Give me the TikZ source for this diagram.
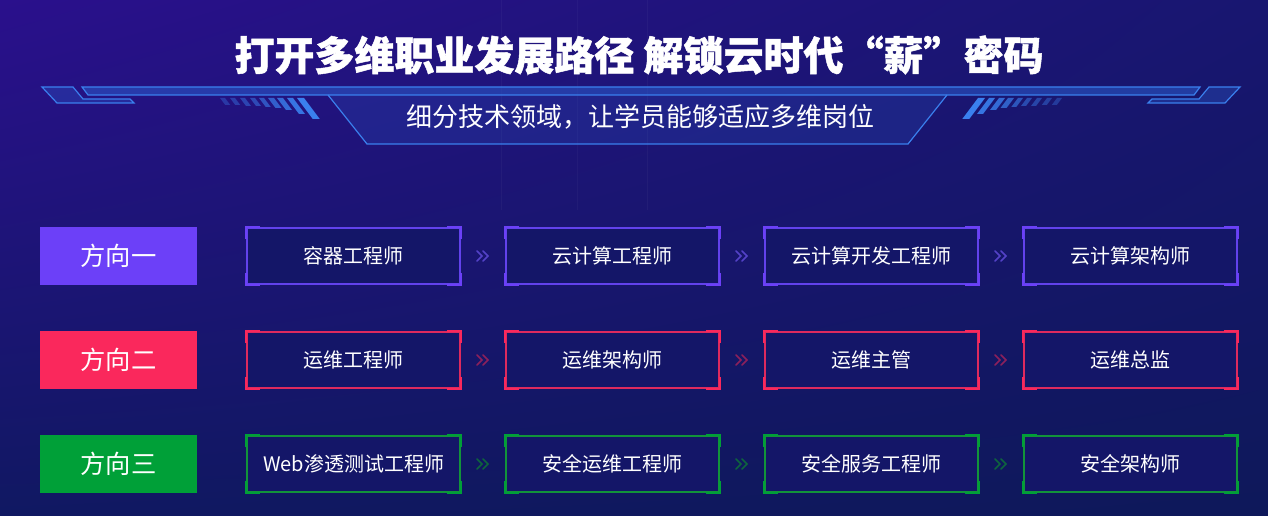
\documentclass[tikz,border=0pt]{standalone}
\usepackage{fontspec}
\setmainfont{Noto Sans CJK SC}
\newfontfamily\titlefont[BoldFeatures={FakeBold=1.2}]{Noto Sans CJK SC}
\usetikzlibrary{calc,shadings}

\definecolor{bgul}{RGB}{42,16,140}
\definecolor{bgur}{RGB}{24,22,112}
\definecolor{bgll}{RGB}{16,24,98}
\definecolor{bglr}{RGB}{14,24,90}
\definecolor{hdline}{RGB}{58,128,238}
\definecolor{hdfill}{RGB}{44,92,205}
\definecolor{boxfill}{RGB}{20,22,104}
\definecolor{dirpurple}{RGB}{108,64,248}
\definecolor{dirred}{RGB}{250,40,92}
\definecolor{dirgreen}{RGB}{0,160,56}
\definecolor{linepurple}{RGB}{98,66,236}
\definecolor{linered}{RGB}{222,42,94}
\definecolor{linegreen}{RGB}{18,148,58}
\definecolor{chevpurple}{RGB}{84,66,200}
\definecolor{chevred}{RGB}{140,32,92}
\definecolor{chevgreen}{RGB}{14,100,62}

\tikzset{every picture/.style={line width=0.75pt}}
\tikzset{
  hdstroke/.style={draw=hdline, line width=0.9pt},
  dirbox/.style={minimum width=117.75pt, minimum height=43.5pt, inner sep=0pt, text=white, font=\fontsize{19}{22}\selectfont},
  jobbox/.style={minimum width=159.75pt, minimum height=42pt, inner sep=0pt, line width=1pt, fill=boxfill, text=white, font=\fontsize{15}{18}\selectfont},
  chev/.style={line width=1.1pt, line cap=round},
}

% thick brackets on the four corners of a job box (y axis is flipped)
\newcommand{\boxcorners}[2]{%
  \draw[#2, line width=1.6pt] ([xshift=10pt]#1.north west) -- (#1.north west) -- ([yshift=9pt]#1.north west);
  \draw[#2, line width=1.6pt] ([xshift=-10pt]#1.north east) -- (#1.north east) -- ([yshift=9pt]#1.north east);
  \draw[#2, line width=1.6pt] ([xshift=10pt]#1.south west) -- (#1.south west) -- ([yshift=-9pt]#1.south west);
  \draw[#2, line width=1.6pt] ([xshift=-10pt]#1.south east) -- (#1.south east) -- ([yshift=-9pt]#1.south east);
}

\begin{document}
\begin{tikzpicture}[x=0.75pt,y=0.75pt,yscale=-1,xscale=1]
	\useasboundingbox (0,0) rectangle (1268,516);

	%Shape: Background
	\shade[upper left=bgul, upper right=bgur, lower left=bgll, lower right=bglr] (0,0) rectangle (1268,516);
	\draw[white, opacity=0.035] (501,0) -- (501,210) ; \draw[white, opacity=0.03] (577,0) -- (577,210) ; \draw[white, opacity=0.035] (647,0) -- (647,210) ;

	%Shape: Header trapezoid
	\fill[hdfill, opacity=0.22] (328,95) -- (367,144) -- (908,144) -- (947,95) -- cycle ;
	\draw[hdstroke] (328,95) -- (367,144) -- (908,144) -- (947,95) ;
	%Shape: Header bar
	\draw[hdstroke, fill=hdfill, fill opacity=0.55] (82,87) -- (1200,87) -- (1194,95) -- (88,95) -- cycle ;
	%Shape: Left piece
	\draw[hdstroke, fill=hdfill, fill opacity=0.35] (42,87) -- (73,87) -- (83,99) -- (130,99) -- (134,103) -- (57,103) -- cycle ;
	%Shape: Right piece
	\draw[hdstroke, fill=hdfill, fill opacity=0.35] (1240,87) -- (1209,87) -- (1199,99) -- (1152,99) -- (1148,103) -- (1225,103) -- cycle ;

	%Shape: Left stripes
	\fill[hdline, opacity=0.35] (220,98) -- ++(5,0) -- ++(5.25,7) -- ++(-5,0) -- cycle ;
	\fill[hdline, opacity=0.4] (230,98) -- ++(5,0) -- ++(5.25,7) -- ++(-5,0) -- cycle ;
	\fill[hdline, opacity=0.45] (240,98) -- ++(5,0) -- ++(6,8) -- ++(-5,0) -- cycle ;
	\fill[hdline, opacity=0.5] (250,98) -- ++(5,0) -- ++(6,8) -- ++(-5,0) -- cycle ;
	\fill[hdline, opacity=0.6] (259,98) -- ++(5,0) -- ++(6.75,9) -- ++(-5,0) -- cycle ;
	\fill[hdline, opacity=0.7] (268,98) -- ++(6,0) -- ++(7.5,10) -- ++(-6,0) -- cycle ;
	\fill[hdline, opacity=0.8] (277,98) -- ++(6,0) -- ++(9,12) -- ++(-6,0) -- cycle ;
	\fill[hdline, opacity=0.9] (287,98) -- ++(6,0) -- ++(12,16) -- ++(-6,0) -- cycle ;
	\fill[hdline] (297,98) -- ++(7,0) -- ++(15.75,21) -- ++(-7,0) -- cycle ;
	%Shape: Right stripes
	\fill[hdline, opacity=0.35] (1062,98) -- ++(-5,0) -- ++(-5.25,7) -- ++(5,0) -- cycle ;
	\fill[hdline, opacity=0.4] (1052,98) -- ++(-5,0) -- ++(-5.25,7) -- ++(5,0) -- cycle ;
	\fill[hdline, opacity=0.45] (1042,98) -- ++(-5,0) -- ++(-6,8) -- ++(5,0) -- cycle ;
	\fill[hdline, opacity=0.5] (1032,98) -- ++(-5,0) -- ++(-6,8) -- ++(5,0) -- cycle ;
	\fill[hdline, opacity=0.6] (1023,98) -- ++(-5,0) -- ++(-6.75,9) -- ++(5,0) -- cycle ;
	\fill[hdline, opacity=0.7] (1014,98) -- ++(-6,0) -- ++(-7.5,10) -- ++(6,0) -- cycle ;
	\fill[hdline, opacity=0.8] (1005,98) -- ++(-6,0) -- ++(-9,12) -- ++(6,0) -- cycle ;
	\fill[hdline, opacity=0.9] (995,98) -- ++(-6,0) -- ++(-12,16) -- ++(6,0) -- cycle ;
	\fill[hdline] (985,98) -- ++(-7,0) -- ++(-15.75,21) -- ++(7,0) -- cycle ;

	% Text Node
	\node[text=white, font=\titlefont\bfseries\fontsize{30}{36}\selectfont] (title) at (639,55) {打开多维职业发展路径 解锁云时代“薪”密码};
	% Text Node
	\node[text=white, font=\fontsize{19.5}{23}\selectfont] (subtitle) at (640,117) {细分技术领域，让学员能够适应多维岗位};

	% Direction labels
	\node[dirbox, fill=dirpurple] (dir1) at (118.5,256) {方向一};
	\node[dirbox, fill=dirred] (dir2) at (118.5,360) {方向二};
	\node[dirbox, fill=dirgreen] (dir3) at (118.5,464) {方向三};

	% Row one
	\node[jobbox, draw=linepurple] (job11) at (353.5,256) {容器工程师};
	\node[jobbox, draw=linepurple] (job12) at (612.5,256) {云计算工程师};
	\node[jobbox, draw=linepurple] (job13) at (871.5,256) {云计算开发工程师};
	\node[jobbox, draw=linepurple] (job14) at (1130.5,256) {云计算架构师};
	\boxcorners{job11}{dirpurple} \boxcorners{job12}{dirpurple} \boxcorners{job13}{dirpurple} \boxcorners{job14}{dirpurple}
	\draw[chev, chevpurple] ($(job11.east)!0.5!(job12.west)$) ++(-6,-5) -- ++(5,5) -- ++(-5,5) ++(6,-10) -- ++(5,5) -- ++(-5,5) ;
	\draw[chev, chevpurple] ($(job12.east)!0.5!(job13.west)$) ++(-6,-5) -- ++(5,5) -- ++(-5,5) ++(6,-10) -- ++(5,5) -- ++(-5,5) ;
	\draw[chev, chevpurple] ($(job13.east)!0.5!(job14.west)$) ++(-6,-5) -- ++(5,5) -- ++(-5,5) ++(6,-10) -- ++(5,5) -- ++(-5,5) ;

	% Row two
	\node[jobbox, draw=linered] (job21) at (353.5,360) {运维工程师};
	\node[jobbox, draw=linered] (job22) at (612.5,360) {运维架构师};
	\node[jobbox, draw=linered] (job23) at (871.5,360) {运维主管};
	\node[jobbox, draw=linered] (job24) at (1130.5,360) {运维总监};
	\boxcorners{job21}{dirred} \boxcorners{job22}{dirred} \boxcorners{job23}{dirred} \boxcorners{job24}{dirred}
	\draw[chev, chevred] ($(job21.east)!0.5!(job22.west)$) ++(-6,-5) -- ++(5,5) -- ++(-5,5) ++(6,-10) -- ++(5,5) -- ++(-5,5) ;
	\draw[chev, chevred] ($(job22.east)!0.5!(job23.west)$) ++(-6,-5) -- ++(5,5) -- ++(-5,5) ++(6,-10) -- ++(5,5) -- ++(-5,5) ;
	\draw[chev, chevred] ($(job23.east)!0.5!(job24.west)$) ++(-6,-5) -- ++(5,5) -- ++(-5,5) ++(6,-10) -- ++(5,5) -- ++(-5,5) ;

	% Row three
	\node[jobbox, draw=linegreen] (job31) at (353.5,464) {Web渗透测试工程师};
	\node[jobbox, draw=linegreen] (job32) at (612.5,464) {安全运维工程师};
	\node[jobbox, draw=linegreen] (job33) at (871.5,464) {安全服务工程师};
	\node[jobbox, draw=linegreen] (job34) at (1130.5,464) {安全架构师};
	\boxcorners{job31}{dirgreen} \boxcorners{job32}{dirgreen} \boxcorners{job33}{dirgreen} \boxcorners{job34}{dirgreen}
	\draw[chev, chevgreen] ($(job31.east)!0.5!(job32.west)$) ++(-6,-5) -- ++(5,5) -- ++(-5,5) ++(6,-10) -- ++(5,5) -- ++(-5,5) ;
	\draw[chev, chevgreen] ($(job32.east)!0.5!(job33.west)$) ++(-6,-5) -- ++(5,5) -- ++(-5,5) ++(6,-10) -- ++(5,5) -- ++(-5,5) ;
	\draw[chev, chevgreen] ($(job33.east)!0.5!(job34.west)$) ++(-6,-5) -- ++(5,5) -- ++(-5,5) ++(6,-10) -- ++(5,5) -- ++(-5,5) ;

\end{tikzpicture}
\end{document}
